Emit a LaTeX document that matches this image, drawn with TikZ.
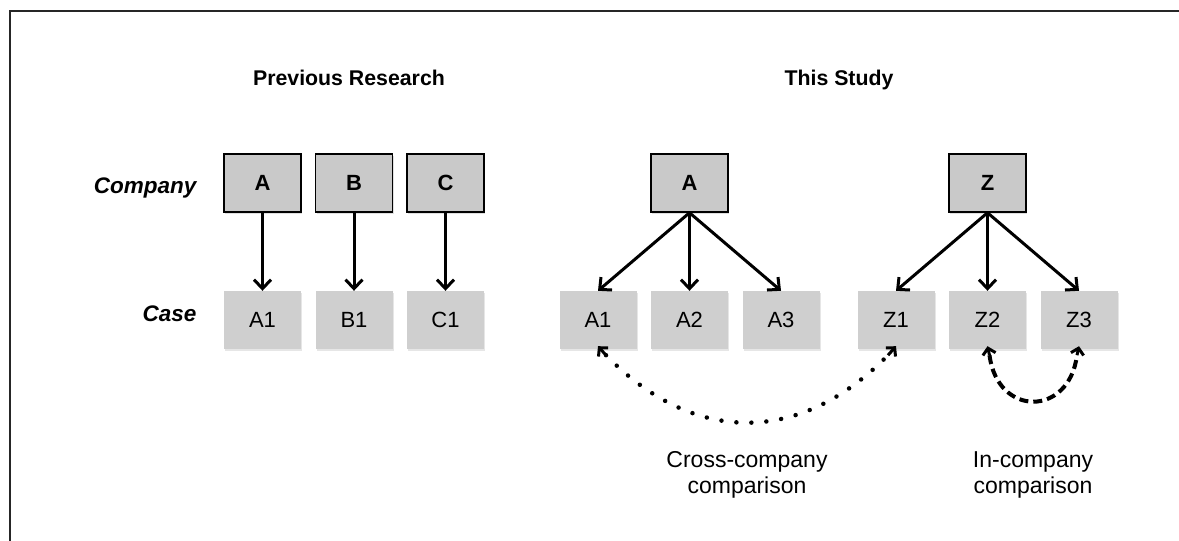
\documentclass[tikz,border=0pt]{standalone}
\usepackage{fontspec}
\setmainfont{Liberation Sans}
\usetikzlibrary{arrows.meta,shadows}
\begin{document}
\begin{tikzpicture}[x=1pt,y=-1pt,
  txt/.style={font=\fontsize{23}{26}\selectfont, align=center},
  company/.style={draw=black, line width=1.5pt, fill=gray!42, minimum width=77pt, minimum height=58pt, inner sep=0pt,
    font=\fontsize{22}{24}\selectfont\bfseries, drop shadow={shadow xshift=1pt, shadow yshift=-2pt, opacity=0.25}},
  casebox/.style={fill=gray!38, minimum width=77pt, minimum height=58pt, inner sep=0pt,
    font=\fontsize{22}{24}\selectfont, drop shadow={shadow xshift=1pt, shadow yshift=-2pt, opacity=0.2}},
  rowlabel/.style={anchor=base east, font=\fontsize{22.5}{24}\selectfont\bfseries\itshape},
  title/.style={anchor=base, font=\fontsize{21.3}{24}\selectfont\bfseries},
  arr/.style={line width=3pt, -{Straight Barb[length=9pt,width=17pt]}},
  tip/.style={line width=3pt, -{Straight Barb[length=6pt,width=13pt]}},
  dotline/.style={line width=4.5pt, line cap=round, dash pattern=on 0pt off 15pt},
  dashline/.style={line width=4pt, dash pattern=on 9pt off 5pt}
]
\useasboundingbox (0,0) rectangle (1179,541);
\draw[line width=2pt, black!85] (10,541) -- (10,11) -- (1179,11);

% titles
\node[title] (t1) at (349,85) {Previous Research};
\node[title] (t2) at (839,85) {This Study};

% row labels
\node[rowlabel] (lc) at (200,193) {Company};
\node[rowlabel] (lk) at (200,321) {Case};

% previous research
\node[company] (pa) at (262.5,183) {A};
\node[company] (pb) at (354,183) {B};
\node[company] (pc) at (445.5,183) {C};
\node[casebox] (pa1) at (262.5,320) {A1};
\node[casebox] (pb1) at (354,320) {B1};
\node[casebox] (pc1) at (445.5,320) {C1};
\draw[arr] (pa) -- (pa1);
\draw[arr] (pb) -- (pb1);
\draw[arr] (pc) -- (pc1);

% this study
\node[company] (sa) at (689.5,183) {A};
\node[company] (sz) at (987.5,183) {Z};
\node[casebox] (a1) at (598,320) {A1};
\node[casebox] (a2) at (689.5,320) {A2};
\node[casebox] (a3) at (781,320) {A3};
\node[casebox] (z1) at (896,320) {Z1};
\node[casebox] (z2) at (987.5,320) {Z2};
\node[casebox] (z3) at (1079,320) {Z3};
\draw[arr] (sa.south) -- (a1.north);
\draw[arr] (sa.south) -- (a2.north);
\draw[arr] (sa.south) -- (a3.north);
\draw[arr] (sz.south) -- (z1.north);
\draw[arr] (sz.south) -- (z2.north);
\draw[arr] (sz.south) -- (z3.north);

% cross-company (dotted)
\coordinate (ca) at ([yshift=3pt]a1.south);
\coordinate (cz) at ([yshift=3pt]z1.south);
\draw[dotline] ([shift={(8,9)}]ca) .. controls +(88,90) and +(-88,90) .. ([shift={(-8,9)}]cz);
\draw[tip] ([shift={(8,9)}]ca) -- (ca);
\draw[tip] ([shift={(-8,9)}]cz) -- (cz);

% in-company (dashed)
\coordinate (da) at ([yshift=3pt]z2.south);
\coordinate (db) at ([yshift=3pt]z3.south);
\draw[dashline] ([shift={(2,9)}]da) .. controls +(8,62) and +(-8,62) .. ([shift={(-2,9)}]db);
\draw[tip] ([shift={(2,9)}]da) -- (da);
\draw[tip] ([shift={(-2,9)}]db) -- (db);

\node[txt] (cc) at (747,475) {Cross-company\\comparison};
\node[txt] (ic) at (1033,475) {In-company\\comparison};
\end{tikzpicture}
\end{document}
